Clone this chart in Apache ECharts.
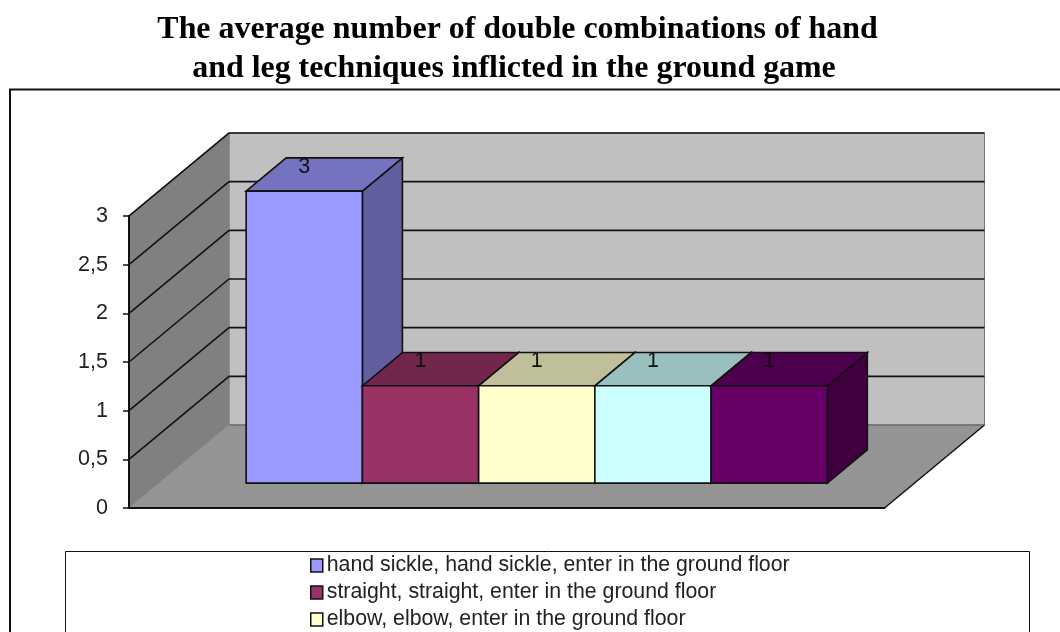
<!DOCTYPE html>
<html>
<head>
<meta charset="utf-8">
<style>html,body{margin:0;padding:0;background:#fff}#chart{width:1060px;height:632px}</style>
<script src="https://cdn.jsdelivr.net/npm/echarts@6/dist/echarts.min.js"></script>
</head>
<body>
<div id="chart"></div>
<script>
// Chart values
const titleLines = [
  'The average number of double combinations of hand',
  'and leg techniques inflicted in the ground game'
];
const groupLabel = [''];
const yTicks = [0, 0.5, 1, 1.5, 2, 2.5, 3];
const barValues = [3, 1, 1, 1, 1];
const legendNames = [
  'hand sickle, hand sickle, enter in the ground floor',
  'straight, straight, enter in the ground floor',
  'elbow, elbow, enter in the ground floor'
];

// Colours per bar: front, top and side faces
const frontColors = ['#9999FF', '#993366', '#FFFFCC', '#CCFFFF', '#660066'];
const topColors = ['#7373BF', '#73264D', '#BFBF99', '#99BFBF', '#4D004D'];
const sideColors = ['#60609F', '#602040', '#9F9F80', '#809F9F', '#400040'];

// Oblique projection of the box: how far the back wall sits from the front plane
const wallDx = 100, wallDy = 83;
const barFront = 0.3, barBack = 0.7;      // bar depth as a share of the floor depth
const barsPerBand = 6.5, sideGap = 0.75;  // band holds 5 bars plus gaps of 0.75 bar

function poly(points, fill, stroke, lineWidth) {
  return { type: 'polygon', shape: { points }, style: { fill, stroke, lineWidth } };
}

// Floor and the two walls
function renderPlanes(params, api) {
  const band = api.size([1, 0])[0];
  const p0 = api.coord([0, 0]);
  const pTop = api.coord([0, api.value(1)]);
  const l = p0[0] - band / 2, r = p0[0] + band / 2, b = p0[1], t = pTop[1];
  const edge = '#5a5a5a';
  return { type: 'group', children: [
    poly([[l + wallDx, t - wallDy], [r + wallDx, t - wallDy], [r + wallDx, b - wallDy], [l + wallDx, b - wallDy]], '#C0C0C0', '#7a7a7a', 1),
    poly([[l, t], [l + wallDx, t - wallDy], [l + wallDx, b - wallDy], [l, b]], '#808080', '#808080', 1),
    poly([[l, b], [l + wallDx, b - wallDy], [r + wallDx, b - wallDy], [r, b]], '#949494', null, 0),
    { type: 'line', shape: { x1: r, y1: b, x2: r + wallDx, y2: b - wallDy }, style: { stroke: '#111', lineWidth: 1.5 } },
    { type: 'line', shape: { x1: l + wallDx, y1: b - wallDy, x2: r + wallDx, y2: b - wallDy }, style: { stroke: edge, lineWidth: 1 } },
    { type: 'line', shape: { x1: l, y1: t, x2: l + wallDx, y2: t - wallDy }, style: { stroke: '#333', lineWidth: 1.2 } }
  ] };
}

// One gridline per tick, running along the side wall and across the back wall
function renderGrid(params, api) {
  const v = api.value(1);
  if (v === 0) return { type: 'group', children: [] };
  const band = api.size([1, 0])[0];
  const p = api.coord([0, v]);
  const l = p[0] - band / 2, r = p[0] + band / 2, y = p[1];
  const style = { stroke: '#111', lineWidth: 1.6 };
  return { type: 'group', children: [
    { type: 'line', shape: { x1: l, y1: y, x2: l + wallDx, y2: y - wallDy }, style },
    { type: 'line', shape: { x1: l + wallDx, y1: y - wallDy, x2: r + wallDx, y2: y - wallDy }, style }
  ] };
}

// A box for one series, placed side by side within the single category band
function renderBar(i) {
  return function (params, api) {
    const band = api.size([1, 0])[0];
    const base = api.coord([0, 0]);
    const top = api.coord([0, api.value(1)]);
    const w = band / barsPerBand;
    const x0 = base[0] - band / 2 + (sideGap + i) * w + barFront * wallDx;
    const x1 = x0 + w;
    const yb = base[1] - barFront * wallDy;
    const yt = top[1] - barFront * wallDy;
    const dx = (barBack - barFront) * wallDx, dy = (barBack - barFront) * wallDy;
    const stroke = '#111', lw = 1.6;
    return { type: 'group', children: [
      poly([[x1, yt], [x1 + dx, yt - dy], [x1 + dx, yb - dy], [x1, yb]], sideColors[i], stroke, lw),
      poly([[x0, yt], [x0 + dx, yt - dy], [x1 + dx, yt - dy], [x1, yt]], topColors[i], stroke, lw),
      poly([[x0, yt], [x1, yt], [x1, yb], [x0, yb]], frontColors[i], stroke, lw),
      { type: 'text', style: {
          x: (x0 + x1) / 2, y: yt - 24.5, text: String(api.value(1)),
          fill: '#111', font: '21.5px "Liberation Sans"', textAlign: 'center', textVerticalAlign: 'middle'
      } }
    ] };
  };
}

const barSeries = barValues.map((v, i) => ({
  type: 'custom',
  name: legendNames[i],
  renderItem: renderBar(i),
  data: [[0, v]],
  encode: { x: 0, y: 1 },
  itemStyle: { color: frontColors[i] },
  z: 5 + i
}));

const titleStyle = { fontFamily: '"Liberation Serif"', fontWeight: 'bold', fontSize: 31.9, lineHeight: 39, color: '#000' };

const chart = echarts.init(document.getElementById('chart'), null, { renderer: 'canvas' });
chart.setOption({
  animation: false,
  backgroundColor: '#fff',
  title: [
    { text: titleLines[0], left: 512.5, top: 5, textAlign: 'center', textStyle: titleStyle },
    { text: titleLines[1], left: 509, top: 44, textAlign: 'center', textStyle: titleStyle }
  ],
  graphic: [
    { type: 'polyline', silent: true, z: 0, shape: { points: [[10, 632], [10, 89.5], [1060, 89.5]] }, style: { fill: null, stroke: '#111', lineWidth: 2 } },
    { type: 'rect', silent: true, z: 0, shape: { x: 65.5, y: 551.5, width: 964, height: 120 }, style: { fill: '#fff', stroke: '#111', lineWidth: 1 } }
  ],
  legend: {
    data: legendNames,
    orient: 'vertical', left: 305, top: 550, height: 300,
    icon: 'rect', itemWidth: 12, itemHeight: 13, itemGap: 6,
    selectedMode: false,
    itemStyle: { borderColor: '#111', borderWidth: 1.5 },
    textStyle: { fontFamily: '"Liberation Sans"', fontSize: 21.3, color: '#222', padding: [0, 0, 0, -1] }
  },
  grid: { left: 129, right: 175.5, top: 216, bottom: 124 },
  xAxis: {
    type: 'category', data: groupLabel,
    axisLine: { lineStyle: { color: '#111', width: 2 } },
    axisTick: { show: false }, axisLabel: { show: false }, splitLine: { show: false }, z: 4
  },
  yAxis: {
    type: 'value', min: 0, max: 3, interval: 0.5,
    axisLine: { show: true, lineStyle: { color: '#111', width: 2 } },
    axisTick: { show: true, length: 6, lineStyle: { color: '#111', width: 1.5 } },
    axisLabel: {
      margin: 21, fontFamily: '"Liberation Sans"', fontSize: 21.5, color: '#222',
      formatter: v => String(v).replace('.', ',')
    },
    splitLine: { show: false }, z: 4
  },
  series: [
    { type: 'custom', silent: true, renderItem: renderPlanes, data: [[0, yTicks[yTicks.length - 1]]], encode: { x: 0, y: 1 }, z: 1 },
    { type: 'custom', silent: true, renderItem: renderGrid, data: yTicks.map(v => [0, v]), encode: { x: 0, y: 1 }, z: 2 },
    ...barSeries
  ]
});
</script>
</body>
</html>
